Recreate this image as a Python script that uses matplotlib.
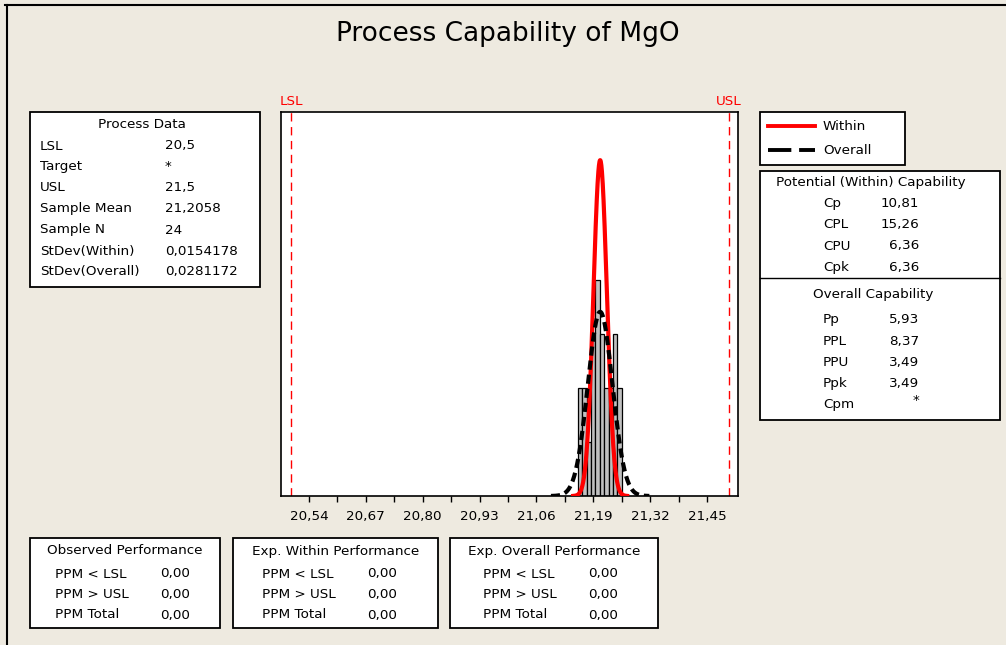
import matplotlib
matplotlib.use("Agg")
import matplotlib.pyplot as plt
import matplotlib.patches as patches
import numpy as np

# process data
lsl = 20.5
usl = 21.5
mean = 21.2058
n_samples = 24
sd_within = 0.0154178
sd_overall = 0.0281172

# histogram of the MgO measurements
bin_centers = [21.16, 21.17, 21.18, 21.19, 21.20, 21.21, 21.22, 21.23, 21.24, 21.25]
counts = [2, 2, 1, 3, 4, 3, 2, 2, 3, 2]
bin_width = 0.01

tick_values = [20.54, 20.67, 20.80, 20.93, 21.06, 21.19, 21.32, 21.45]

process_labels = ["LSL", "Target", "USL", "Sample Mean", "Sample N",
                  "StDev(Within)", "StDev(Overall)"]
process_values = ["20,5", "*", "21,5", "21,2058", "24", "0,0154178", "0,0281172"]

within_labels = ["Cp", "CPL", "CPU", "Cpk"]
within_values = ["10,81", "15,26", "6,36", "6,36"]
overall_labels = ["Pp", "PPL", "PPU", "Ppk", "Cpm"]
overall_values = ["5,93", "8,37", "3,49", "3,49", "*"]

perf_titles = ["Observed Performance", "Exp. Within Performance", "Exp. Overall Performance"]
perf_labels = ["PPM < LSL", "PPM > USL", "PPM Total"]
perf_values = [["0,00", "0,00", "0,00"],
               ["0,00", "0,00", "0,00"],
               ["0,00", "0,00", "0,00"]]

W, H = 1006, 645
BG = "#EEEAE0"
FS = 9.7

fig = plt.figure(figsize=(W / 100, H / 100), dpi=100, facecolor=BG)


def fx(px):
    return px / W


def fy(py):
    return 1 - py / H


def text(x, y, s, **kw):
    kw.setdefault("fontsize", FS)
    kw.setdefault("va", "center")
    fig.text(fx(x), fy(y), s, **kw)


def box(x0, y0, x1, y1):
    fig.add_artist(patches.Rectangle((fx(x0), fy(y1)), fx(x1 - x0), (y1 - y0) / H,
                                     transform=fig.transFigure, facecolor="white",
                                     edgecolor="black", lw=1.3))


def hline(x0, x1, y, **kw):
    fig.add_artist(plt.Line2D([fx(x0), fx(x1)], [fy(y), fy(y)],
                              transform=fig.transFigure, **kw))


# outer frame (top and left edges)
hline(5, W, 5, color="black", lw=1.5)
fig.add_artist(plt.Line2D([fx(7), fx(7)], [fy(5), 0], transform=fig.transFigure,
                          color="black", lw=1.5))

text(508, 34, "Process Capability of MgO", fontsize=19, ha="center")

# main histogram panel
ax = fig.add_axes([fx(281), fy(496), fx(738 - 281), (496 - 112) / H])
ax.set_facecolor("white")
ax.bar(bin_centers, counts, width=bin_width, color="#C0C0C0", edgecolor="black",
       lw=0.9, zorder=2)

xw = np.linspace(mean - 4 * sd_within, mean + 4 * sd_within, 200)
yw = n_samples * bin_width * np.exp(-0.5 * ((xw - mean) / sd_within) ** 2) / (sd_within * np.sqrt(2 * np.pi))
ax.plot(xw, yw, color="red", lw=3, zorder=3)

xo = np.linspace(mean - 4 * sd_overall, mean + 4 * sd_overall, 200)
yo = n_samples * bin_width * np.exp(-0.5 * ((xo - mean) / sd_overall) ** 2) / (sd_overall * np.sqrt(2 * np.pi))
ax.plot(xo, yo, color="black", lw=3, dashes=(2.2, 1.2), zorder=4)

for spec in (lsl, usl):
    ax.axvline(spec, color="red", lw=1, dashes=(6, 4), zorder=1)
ax.text(lsl, 1.01, "LSL", transform=ax.get_xaxis_transform(), color="red",
        ha="center", va="bottom", fontsize=FS)
ax.text(usl, 1.01, "USL", transform=ax.get_xaxis_transform(), color="red",
        ha="center", va="bottom", fontsize=FS)

ax.set_xlim(20.476, 21.521)
ax.set_ylim(0, 7.1)
ax.set_yticks([])
ax.set_xticks(tick_values)
ax.set_xticklabels([f"{v:.2f}".replace(".", ",") for v in tick_values], fontsize=FS)
ax.set_xticks([v + 0.065 for v in tick_values[:-1]], minor=True)
ax.tick_params(axis="x", which="both", direction="out", length=4, width=1, pad=6)
for s in ax.spines.values():
    s.set_linewidth(1.2)

# process data box
box(30, 112, 260, 287)
text(142, 125, "Process Data", ha="center")
for i, (lab, val) in enumerate(zip(process_labels, process_values)):
    y = 146 + i * 21
    text(40, y, lab)
    text(165, y, val)

# legend box
box(760, 112, 905, 165)
hline(768, 815, 126, color="red", lw=2.8)
hline(768, 815, 150, color="black", lw=2.8, dashes=(6, 2))
text(823, 126, "Within")
text(823, 150, "Overall")

# capability box
box(760, 171, 1000, 420)
hline(760, 1000, 278, color="black", lw=1)
text(871, 183, "Potential (Within) Capability", ha="center")
for i, (lab, val) in enumerate(zip(within_labels, within_values)):
    y = 204 + i * 21
    text(823, y, lab)
    text(919, y, val, ha="right")
text(873, 295, "Overall Capability", ha="center")
for i, (lab, val) in enumerate(zip(overall_labels, overall_values)):
    y = 320 + i * 21.2
    text(823, y, lab)
    if val == "*":
        text(919, y - 4, val, ha="right")
    else:
        text(919, y, val, ha="right")

# performance boxes
perf_boxes = [(30, 220, 55, 160), (233, 438, 262, 367), (450, 658, 483, 588)]
for (x0, x1, xl, xv), title, vals in zip(perf_boxes, perf_titles, perf_values):
    box(x0, 538, x1, 628)
    text((x0 + x1) / 2, 551, title, ha="center")
    for i, (lab, val) in enumerate(zip(perf_labels, vals)):
        y = 574 + i * 20.5
        text(xl, y, lab)
        text(xv, y, val)

fig.savefig("out.png", dpi=100, facecolor=BG)
